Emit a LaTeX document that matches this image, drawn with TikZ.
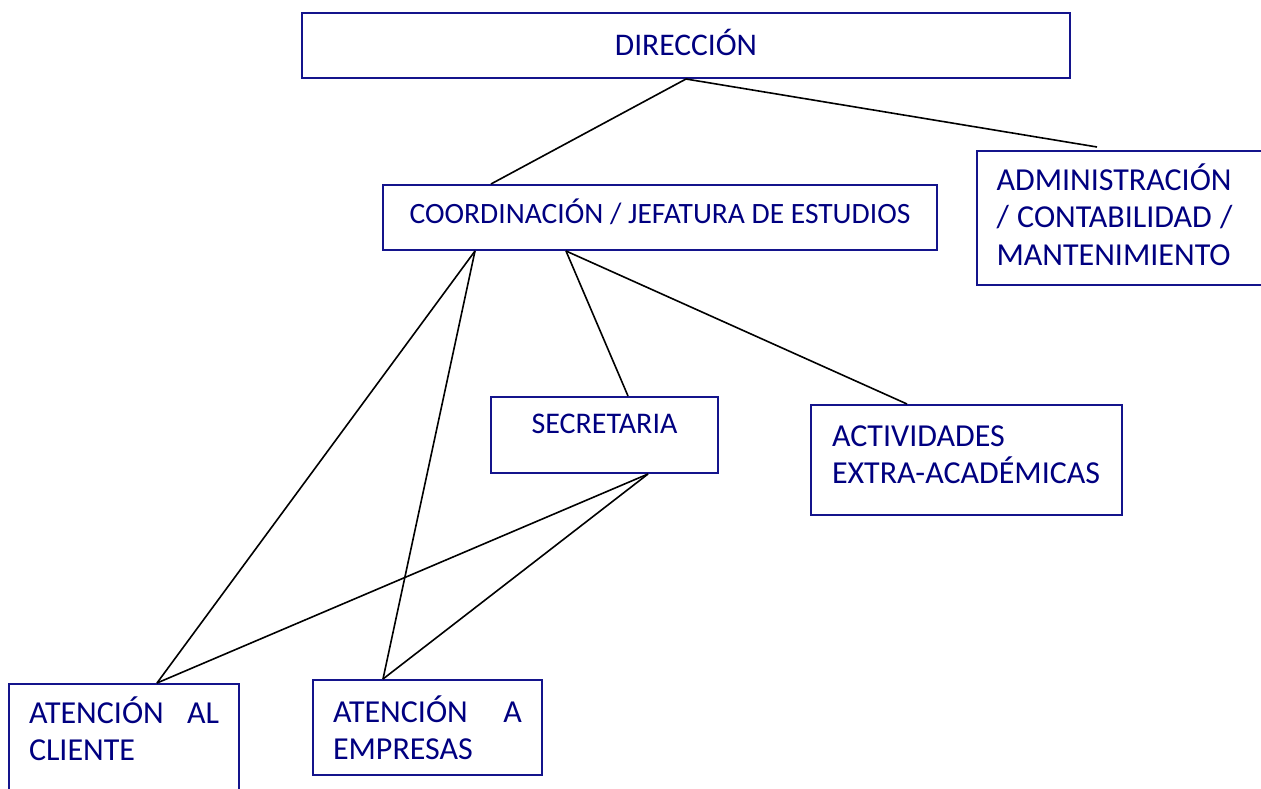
\documentclass[tikz,border=0pt]{standalone}
\usepackage{fontspec}
\setmainfont{Carlito}
\usepackage{tikz}
\definecolor{azul}{RGB}{0,0,128}
\definecolor{borde}{RGB}{20,20,140}
\tikzset{
	caja/.style={draw=borde, line width=2pt, rectangle, text=azul, inner sep=0pt},
	chica/.style={font=\fontsize{30}{36}\selectfont},
	grande/.style={font=\fontsize{32}{37.5}\selectfont},
	linea/.style={line width=1.6pt, black}
}

\begin{document}
\begin{tikzpicture}[x=1pt, y=-1pt]
		\useasboundingbox (0,0) rectangle (1261,789);
		
		% cajas
		\node[caja, font=\fontsize{31.5}{36}\selectfont, minimum width = 768pt, minimum height = 65pt, text depth = 6pt] (dir) at (686,45.5) 
		{DIRECCIÓN};
		\node[caja, font=\fontsize{29.5}{36}\selectfont, minimum width = 554pt, minimum height = 65pt, text depth = 13pt] (coord) at (660,217.5) 
		{COORDINACIÓN / JEFATURA DE ESTUDIOS};
		\node[caja, grande, anchor = north west, minimum width = 300pt, minimum height = 134pt] (admin) at (976,150) 
		{};
		\node[grande, text=azul, text width = 236pt, align = left, anchor = north west] (admint) at (993,160) 
		{ADMINISTRACIÓN\\\makebox[236pt][l]{/\hfill CONTABILIDAD\hfill /}\\MANTENIMIENTO};
		\node[caja, chica, minimum width = 227pt, minimum height = 76pt, text depth = 22pt] (secr) at (604.5,435) 
		{SECRETARIA};
		\node[caja, grande, minimum width = 311pt, minimum height = 110pt, text width = 269pt, align = left, text depth = 48pt] (activ) at (966.5,460) 
		{ACTIVIDADES\\EXTRA-ACADÉMICAS};
		\node[caja, grande, minimum width = 230pt, minimum height = 112pt, text width = 190pt, align = left, text depth = 60pt] (cliente) at (124,740) 
		{\makebox[190pt][l]{ATENCIÓN\hfill AL}\\CLIENTE};
		\node[caja, grande, minimum width = 229pt, minimum height = 95pt, text width = 189pt, align = left] (empresas) at (427.5,727.5) 
		{\makebox[189pt][l]{ATENCIÓN\hfill A}\\EMPRESAS};
		
		% lineas
		\draw[linea] (dir.south) -- ([xshift=109pt]coord.north west);
		\draw[linea] (dir.south) -- ([xshift=121pt, yshift=3pt]admin.north west);
		\draw[linea] ([xshift=93pt]coord.south west) -- ([xshift=149pt]cliente.north west);
		\draw[linea] ([xshift=93pt]coord.south west) -- ([xshift=71pt]empresas.north west);
		\draw[linea] ([xshift=184pt]coord.south west) -- ([xshift=138pt]secr.north west);
		\draw[linea] ([xshift=184pt]coord.south west) -- ([xshift=97pt]activ.north west);
		\draw[linea] ([xshift=158pt]secr.south west) -- ([xshift=149pt]cliente.north west);
		\draw[linea] ([xshift=158pt]secr.south west) -- ([xshift=71pt]empresas.north west);
	\end{tikzpicture}
\end{document}
